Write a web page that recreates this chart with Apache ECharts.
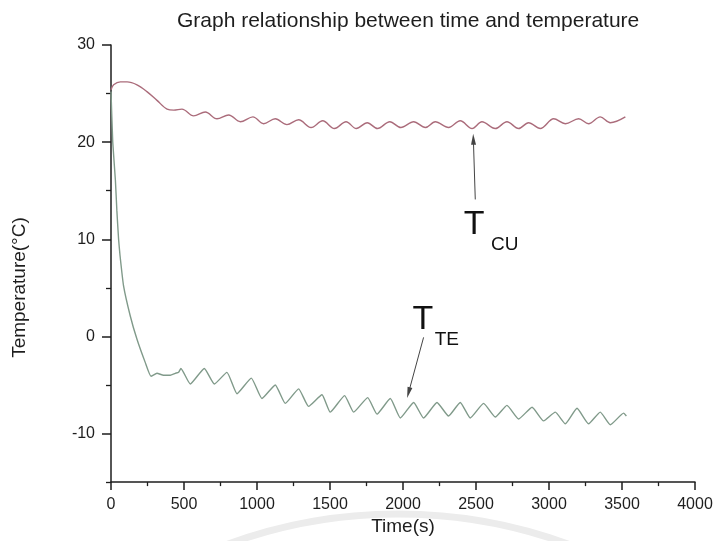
<!DOCTYPE html>
<html>
<head>
<meta charset="utf-8">
<title>Graph relationship between time and temperature</title>
<script src="https://cdn.jsdelivr.net/npm/echarts@6/dist/echarts.min.js"></script>
<style>
  html, body { margin: 0; padding: 0; background: #ffffff; }
  #chart { width: 716px; height: 541px; }
</style>
</head>
<body>
<div id="chart"></div>
<script>
// Copper-side temperature T_CU (s, °C)
const cuTime = [0, 18, 64, 110, 178, 246, 315, 384, 430, 486, 566, 646, 726, 806, 886, 972, 1045, 1125, 1205, 1285, 1370, 1450, 1530, 1610, 1680, 1755, 1825, 1910, 1985, 2073, 2153, 2221, 2312, 2392, 2473, 2541, 2632, 2712, 2792, 2860, 2940, 3032, 3112, 3203, 3271, 3351, 3420, 3523];
const cuTemp = [25.4, 25.9, 26.2, 26.2, 25.9, 25.2, 24.3, 23.4, 23.3, 23.4, 22.7, 23.1, 22.4, 22.8, 22.1, 22.6, 21.9, 22.4, 21.8, 22.3, 21.5, 22.2, 21.4, 22.1, 21.4, 22.0, 21.4, 22.1, 21.5, 22.1, 21.5, 22.1, 21.5, 22.2, 21.4, 22.1, 21.4, 22.1, 21.4, 22.0, 21.4, 22.4, 21.9, 22.4, 21.9, 22.6, 22.0, 22.6];

// Thermoelectric-side temperature T_TE (s, °C)
const teTime = [0, 12, 30, 40, 52, 62, 86, 132, 178, 235, 274, 315, 360, 406, 440, 463, 479, 543, 639, 708, 794, 863, 961, 1034, 1125, 1194, 1285, 1353, 1445, 1502, 1600, 1662, 1758, 1822, 1913, 1982, 2073, 2141, 2233, 2312, 2392, 2461, 2552, 2632, 2712, 2792, 2884, 2963, 3043, 3112, 3192, 3271, 3351, 3420, 3511, 3530];
const teTemp = [25.2, 20.0, 16.1, 13.0, 10.0, 8.3, 5.2, 2.1, -0.3, -2.7, -4.1, -3.8, -4.0, -4.0, -3.8, -3.7, -3.3, -4.9, -3.3, -4.9, -3.7, -5.9, -4.3, -6.4, -5.0, -6.9, -5.4, -7.2, -6.0, -7.8, -6.1, -7.8, -6.3, -8.0, -6.4, -8.4, -6.8, -8.4, -6.8, -8.2, -6.8, -8.4, -6.9, -8.3, -7.1, -8.5, -7.3, -8.7, -7.8, -9.0, -7.4, -9.0, -7.8, -9.1, -7.9, -8.2];

// Axis tick values
const xTicks = [0, 500, 1000, 1500, 2000, 2500, 3000, 3500, 4000];
const yMajor = [-10, 0, 10, 20, 30];
const yMinor = [-15, -5, 5, 15, 25];

const FONT = '"Liberation Sans", Arial, sans-serif';
const INK = '#1e1e1e';

const pairs = (xs, ys) => xs.map((x, i) => [x, ys[i]]);

// Annotation placement in data space (arrows and the T_CU / T_TE labels)
const notes = {
  cuArrow: [[2495, 14.1], [2482, 20.3]],
  teArrow: [[2141, -0.1], [2038, -5.8]],
  cuT: [2488, 11.5], cuSub: [2697, 9.45],
  teT: [2136, 1.7], teSub: [2300, -0.34]
};

const chart = echarts.init(document.getElementById('chart'), null, { renderer: 'canvas' });

const axisLineStyle = { color: INK, width: 1.5 };

chart.setOption({
  animation: false,
  backgroundColor: '#ffffff',
  title: {
    text: 'Graph relationship between time and temperature',
    left: 172,
    top: 6,
    textStyle: { fontFamily: FONT, fontSize: 21, fontWeight: 'normal', color: INK }
  },
  grid: { left: 111, right: 21, top: 45, bottom: 58, containLabel: false },
  xAxis: {
    type: 'value',
    min: 0, max: 4000, interval: 500,
    name: 'Time(s)',
    nameLocation: 'middle',
    nameGap: 29,
    nameTextStyle: { fontFamily: FONT, fontSize: 19, color: INK, verticalAlign: 'top' },
    axisLine: { show: true, onZero: false, lineStyle: axisLineStyle },
    axisTick: { show: true, length: 8, lineStyle: axisLineStyle, customValues: xTicks },
    minorTick: { show: true, splitNumber: 2, length: 4, lineStyle: { color: INK, width: 1.3 } },
    axisLabel: {
      fontFamily: FONT, fontSize: 16, color: INK, margin: 14,
      customValues: xTicks,
      formatter: (v) => String(v)
    },
    splitLine: { show: false }
  },
  yAxis: [
    {
      type: 'value',
      min: -15, max: 30, interval: 5,
      name: 'Temperature(°C)',
      nameLocation: 'middle',
      nameGap: 82,
      nameRotate: 90,
      nameTextStyle: { fontFamily: FONT, fontSize: 19, color: INK, padding: [0, 48, 0, 0] },
      axisLine: { show: true, onZero: false, lineStyle: axisLineStyle },
      axisTick: { show: true, length: 9, lineStyle: axisLineStyle, customValues: yMajor },
      axisLabel: {
        fontFamily: FONT, fontSize: 16, color: INK, margin: 16,
        customValues: yMajor,
        formatter: (v) => String(v)
      },
      splitLine: { show: false }
    },
    {
      type: 'value',
      min: -15, max: 30, interval: 5,
      position: 'left',
      axisLine: { show: false },
      axisTick: { show: true, length: 5, lineStyle: { color: INK, width: 1.3 }, customValues: yMinor },
      axisLabel: { show: false },
      splitLine: { show: false }
    }
  ],
  series: [
    {
      name: 'T_CU',
      type: 'line',
      data: pairs(cuTime, cuTemp),
      showSymbol: false,
      smooth: 0.35,
      lineStyle: { color: '#ab6c7b', width: 1.4 },
      z: 3,
      markLine: {
        silent: true,
        symbol: ['none', 'triangle'],
        symbolSize: [5, 11],
        label: { show: false },
        lineStyle: { color: '#444', width: 1, type: 'solid' },
        data: [[{ coord: notes.cuArrow[0] }, { coord: notes.cuArrow[1] }]]
      }
    },
    {
      name: 'T_TE',
      type: 'line',
      data: pairs(teTime, teTemp),
      showSymbol: false,
      smooth: 0.15,
      lineStyle: { color: '#809a8a', width: 1.4 },
      z: 3,
      markLine: {
        silent: true,
        symbol: ['none', 'triangle'],
        symbolSize: [5, 11],
        label: { show: false },
        lineStyle: { color: '#444', width: 1, type: 'solid' },
        data: [[{ coord: notes.teArrow[0] }, { coord: notes.teArrow[1] }]]
      }
    }
  ]
});

// Curve labels with subscripts, placed from data-space anchors
const px = (p) => chart.convertToPixel({ xAxisIndex: 0, yAxisIndex: 0 }, p);
const label = (p, text, size) => {
  const [x, y] = px(p);
  return {
    type: 'text', z: 10,
    style: {
      text, x, y,
      font: size + 'px ' + FONT,
      fill: '#111',
      textAlign: 'center',
      textVerticalAlign: 'middle'
    }
  };
};

chart.setOption({
  graphic: [
    {
      type: 'arc', z: -1, silent: true,
      shape: { cx: 398, cy: 1009, r: 495, startAngle: Math.PI * 1.25, endAngle: Math.PI * 1.75 },
      style: { stroke: '#ececec', lineWidth: 7, fill: null }
    },
    label(notes.cuT, 'T', 34),
    label(notes.cuSub, 'CU', 19),
    label(notes.teT, 'T', 34),
    label(notes.teSub, 'TE', 19)
  ]
});
</script>
</body>
</html>
